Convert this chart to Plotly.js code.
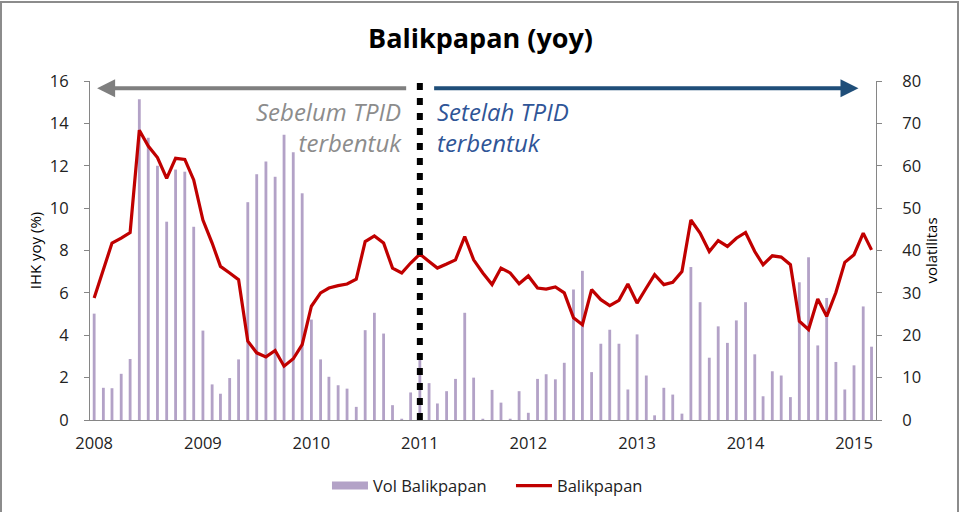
<!DOCTYPE html>
<html>
<head>
<meta charset="utf-8">
<script src="https://cdn.plot.ly/plotly-3.0.1.min.js"></script>
<style>
  html, body { margin: 0; padding: 0; background: #fff; }
  #wrap { position: relative; width: 961px; height: 512px; overflow: hidden; }
  #chart { position: absolute; left: 0; top: 0; width: 961px; height: 512px; }
  #frame { position: absolute; left: 0px; top: 1px; width: 955px; height: 520px; border: 2px solid #8c8c8c; pointer-events: none; }
</style>
</head>
<body>
<div id="wrap"><div id="chart"></div><div id="frame"></div></div>
<script>
// Monthly observations, Jan 2008 - Mar 2015
const months = [
  '2008-01','2008-02','2008-03','2008-04','2008-05','2008-06','2008-07','2008-08','2008-09','2008-10','2008-11','2008-12',
  '2009-01','2009-02','2009-03','2009-04','2009-05','2009-06','2009-07','2009-08','2009-09','2009-10','2009-11','2009-12',
  '2010-01','2010-02','2010-03','2010-04','2010-05','2010-06','2010-07','2010-08','2010-09','2010-10','2010-11','2010-12',
  '2011-01','2011-02','2011-03','2011-04','2011-05','2011-06','2011-07','2011-08','2011-09','2011-10','2011-11','2011-12',
  '2012-01','2012-02','2012-03','2012-04','2012-05','2012-06','2012-07','2012-08','2012-09','2012-10','2012-11','2012-12',
  '2013-01','2013-02','2013-03','2013-04','2013-05','2013-06','2013-07','2013-08','2013-09','2013-10','2013-11','2013-12',
  '2014-01','2014-02','2014-03','2014-04','2014-05','2014-06','2014-07','2014-08','2014-09','2014-10','2014-11','2014-12',
  '2015-01','2015-02','2015-03'
];

// Vol Balikpapan (right axis, volatilitas)
const volBalikpapan = [
  25.1, 7.6, 7.5, 10.9, 14.4, 75.7, 66.6, 60.0, 46.8, 59.1, 58.6, 45.6,
  21.1, 8.4, 6.2, 9.9, 14.3, 51.4, 58.0, 61.0, 57.4, 67.3, 63.2, 53.5,
  23.7, 14.3, 10.2, 8.2, 7.4, 3.1, 21.2, 25.3, 20.4, 3.5, 0.3, 6.5,
  14.4, 8.7, 3.9, 6.8, 9.7, 25.3, 10.0, 0.3, 7.1, 4.1, 0.3, 6.8,
  1.7, 9.7, 10.8, 9.6, 13.5, 30.8, 35.2, 11.3, 18.0, 21.3, 18.0, 7.2,
  20.2, 10.5, 1.1, 7.6, 6.0, 1.5, 36.1, 27.8, 14.7, 22.1, 18.2, 23.5,
  27.8, 15.5, 5.6, 11.5, 10.5, 5.4, 32.5, 38.4, 17.6, 28.8, 13.7, 7.2,
  12.9, 26.8, 17.3
];

// Balikpapan IHK yoy (%) (left axis)
const ihkYoy = [
  5.76, 7.09, 8.35, 8.58, 8.85, 13.68, 12.93, 12.39, 11.40, 12.35, 12.30, 11.33,
  9.44, 8.35, 7.25, 6.94, 6.62, 3.72, 3.17, 2.98, 3.28, 2.54, 2.89, 3.56,
  5.37, 6.00, 6.23, 6.34, 6.42, 6.65, 8.42, 8.69, 8.35, 7.17, 6.94, 7.41,
  7.83, 7.48, 7.17, 7.36, 7.56, 8.66, 7.56, 6.94, 6.39, 7.17, 6.94, 6.43,
  6.80, 6.23, 6.18, 6.28, 6.00, 4.82, 4.50, 6.15, 5.68, 5.40, 5.65, 6.42,
  5.52, 6.23, 6.86, 6.39, 6.50, 7.01, 9.44, 8.82, 7.95, 8.47, 8.19, 8.58,
  8.85, 7.95, 7.33, 7.75, 7.69, 7.33, 4.66, 4.27, 5.71, 4.89, 6.02, 7.44,
  7.80, 8.82, 8.03
];

const tickDates = ['2008-01-01','2009-01-01','2010-01-01','2011-01-01','2012-01-01','2013-01-01','2014-01-01','2015-01-01'];
const tickYears = ['2008','2009','2010','2011','2012','2013','2014','2015'];

const FONT = 'Open Sans, Lato, DejaVu Sans, sans-serif';
const AXIS_GREY = '#868686';
const BAR_COLOR = '#B3A2C7';

const traces = [
  {
    type: 'bar', name: 'Vol Balikpapan', x: months, y: volBalikpapan,
    yaxis: 'y', marker: { color: BAR_COLOR }, width: 9.5 * 24 * 3600 * 1000,
    showlegend: false, hoverinfo: 'x+y'
  },
  {
    // legend-only entry so the swatch is a wide band like the reference
    type: 'scatter', mode: 'lines', name: 'Vol Balikpapan', x: [null], y: [null],
    yaxis: 'y', line: { color: BAR_COLOR, width: 8 }, hoverinfo: 'skip'
  },
  {
    type: 'scatter', mode: 'lines', name: 'Balikpapan', x: months, y: ihkYoy,
    yaxis: 'y2', line: { color: '#C00000', width: 3.2 },
    hoverinfo: 'x+y'
  }
];

const layout = {
  width: 961, height: 512,
  margin: { l: 90, r: 85, t: 81, b: 92 },
  paper_bgcolor: '#ffffff', plot_bgcolor: '#ffffff',
  font: { family: FONT, color: '#333333', size: 15 },
  showlegend: true,
  title: {
    text: 'Balikpapan (yoy)', xref: 'container', x: 0.5, xanchor: 'center',
    yref: 'container', y: 0.925, yanchor: 'middle',
    font: { family: FONT, size: 27, color: '#000000', weight: 'bold' }
  },
  xaxis: {
    type: 'date', range: ['2007-12-18', '2015-03-16'],
    tickmode: 'array', tickvals: tickDates, ticktext: tickYears,
    ticks: '', showgrid: false, zeroline: false,
    showline: true, linecolor: AXIS_GREY, linewidth: 1,
    tickfont: { size: 16.5, color: '#222222' }, ticklabelstandoff: 8
  },
  yaxis: {
    side: 'right', range: [0, 80], tick0: 0, dtick: 10,
    ticks: 'outside', ticklen: 5, tickcolor: AXIS_GREY,
    showline: true, linecolor: AXIS_GREY, linewidth: 1,
    showgrid: false, zeroline: false,
    tickfont: { size: 16.5, color: '#222222' }, ticklabelstandoff: 17,
    title: { text: 'volatilitas', font: { size: 15, color: '#000000' }, standoff: 2 }
  },
  yaxis2: {
    side: 'left', overlaying: 'y', range: [0, 16], tick0: 0, dtick: 2,
    ticks: 'outside', ticklen: 5, tickcolor: AXIS_GREY,
    showline: true, linecolor: AXIS_GREY, linewidth: 1,
    showgrid: false, zeroline: false,
    tickfont: { size: 16.5, color: '#222222' }, ticklabelstandoff: 12,
    title: { text: 'IHK yoy (%)', font: { size: 15, color: '#000000' }, standoff: 4 }
  },
  legend: {
    orientation: 'h', x: 0.3015, xanchor: 'left', xref: 'paper',
    yref: 'container', y: 0.051, yanchor: 'middle',
    font: { size: 16.5, color: '#222222' },
    traceorder: 'normal', bgcolor: 'rgba(0,0,0,0)', itemwidth: 36,
    entrywidth: 133, entrywidthmode: 'pixels'
  },
  shapes: [
    {
      type: 'line', xref: 'x', yref: 'paper', x0: '2011-01-01', x1: '2011-01-01',
      y0: 0, y1: 1, layer: 'above',
      line: { color: '#000000', width: 6, dash: '7px,8px' }
    }
  ],
  annotations: [
    {
      xref: 'x', yref: 'y2', x: '2008-01-11', y: 15.66,
      axref: 'x', ayref: 'y2', ax: '2010-11-21', ay: 15.66,
      text: '', showarrow: true, arrowhead: 2, arrowsize: 0.9, arrowwidth: 4,
      arrowcolor: '#7F7F7F', standoff: 0, startstandoff: 0
    },
    {
      xref: 'x', yref: 'y2', x: '2015-01-16', y: 15.66,
      axref: 'x', ayref: 'y2', ax: '2011-02-13', ay: 15.66,
      text: '', showarrow: true, arrowhead: 2, arrowsize: 0.9, arrowwidth: 4,
      arrowcolor: '#1F4E79', standoff: 0, startstandoff: 0
    },
    {
      xref: 'x', yref: 'paper', x: '2010-11-09', y: 0.965, xanchor: 'right', yanchor: 'top',
      text: 'Sebelum TPID<br>terbentuk', showarrow: false, align: 'right',
      font: { family: FONT, size: 24, color: '#8C8C8C', style: 'italic' }
    },
    {
      xref: 'x', yref: 'paper', x: '2011-02-22', y: 0.965, xanchor: 'left', yanchor: 'top',
      text: 'Setelah TPID<br>terbentuk', showarrow: false, align: 'left',
      font: { family: FONT, size: 24, color: '#2F5597', style: 'italic' }
    }
  ]
};

Plotly.newPlot('chart', traces, layout, { displayModeBar: false, staticPlot: true });
</script>
</body>
</html>
